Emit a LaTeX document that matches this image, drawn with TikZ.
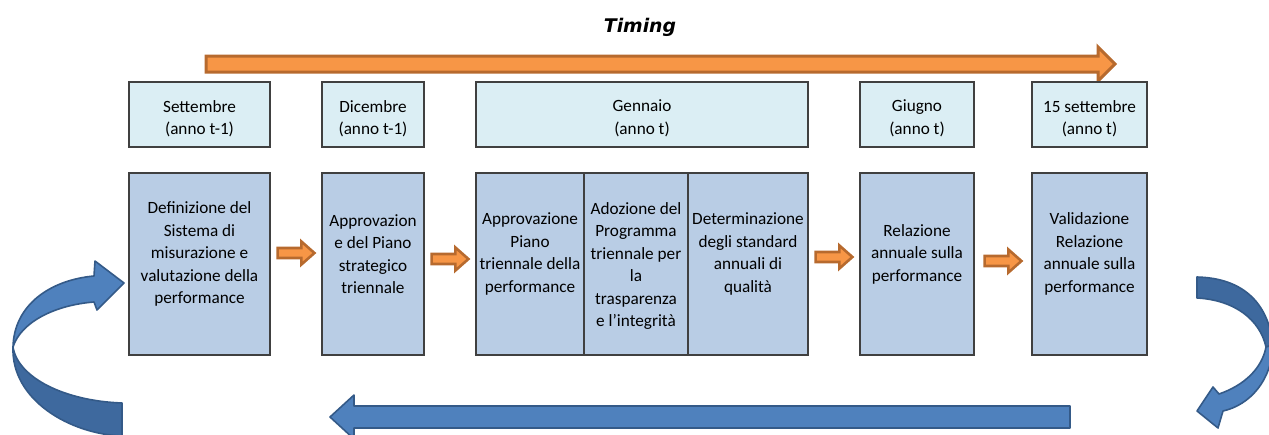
\documentclass[tikz,border=0pt]{standalone}
\usepackage{fontspec}
\setmainfont{Carlito}
\newfontfamily\titlefont[ItalicFont={* Oblique},BoldItalicFont={* Bold Oblique}]{DejaVu Sans}
\usetikzlibrary{calc}

\definecolor{azzurro}{HTML}{DBEEF4}
\definecolor{celeste}{HTML}{B9CDE5}
\definecolor{arancio}{HTML}{F79646}
\definecolor{arancioscuro}{HTML}{B76A2E}
\definecolor{blu}{HTML}{4F81BD}
\definecolor{blurovescio}{HTML}{3E699E}
\definecolor{bluscuro}{HTML}{345A88}
\definecolor{bordo}{HTML}{404040}

% freccia arancione tra due fasi
\newcommand{\frecciablocco}[2]{%
  \draw[freccia] ($(#1)+(0,-5)$) -- ($(#2)+(-13,-5)$) -- ($(#2)+(-13,-11.5)$) -- (#2)
    -- ($(#2)+(-13,11.5)$) -- ($(#2)+(-13,5)$) -- ($(#1)+(0,5)$) -- cycle;}

\begin{document}
\begin{tikzpicture}[x=0.5pt,y=-0.5pt,
  periodo/.style={draw=bordo, line width=0.6pt, fill=azzurro, minimum height=32.5pt, inner sep=0pt},
  fase/.style={draw=bordo, line width=0.6pt, fill=celeste, minimum height=91pt, inner sep=0pt},
  testo/.style={align=center, inner sep=0pt, font=\fontsize{8.6}{11.25}\selectfont},
  freccia/.style={fill=arancio, draw=arancioscuro, line width=1.3pt},
  blocco/.style={fill=blu, draw=bluscuro, line width=0.8pt, line join=round}]
  \useasboundingbox (0,0) rectangle (1269,434);

  \node[font=\titlefont\bfseries\itshape\fontsize{9.4}{11}\selectfont] (timing) at (640,27) {Timing};

  % freccia del tempo
  \draw[freccia, line width=1.5pt] (206,56) -- (1098,56) -- (1098,47) -- (1115,64) -- (1098,81) -- (1098,72) -- (206,72) -- cycle;

  % date
  \node[periodo, minimum width=70.5pt] (sett) at (199.5,114.5) {};
  \node[periodo, minimum width=51pt] (dic) at (373,114.5) {};
  \node[periodo, minimum width=166pt] (genn) at (642,114.5) {};
  \node[periodo, minimum width=57pt] (giu) at (917,114.5) {};
  \node[periodo, minimum width=57.5pt] (sett15) at (1089.5,114.5) {};

  \node[testo] (t-sett) at ([yshift=-2pt]sett.center) {Settembre\\(anno t-1)};
  \node[testo] (t-dic) at ([yshift=-2pt]dic.center) {Dicembre\\(anno t-1)};
  \node[testo] (t-genn) at ([yshift=-2pt]genn.center) {Gennaio\\(anno t)};
  \node[testo] (t-giu) at ([yshift=-2pt]giu.center) {Giugno\\(anno t)};
  \node[testo] (t-sett15) at ([yshift=-2pt]sett15.center) {15 settembre\\(anno t)};

  % fasi
  \node[fase, minimum width=70.5pt] (def) at (199.5,264) {};
  \node[fase, minimum width=51pt] (appr) at (373,264) {};
  \node[fase, minimum width=54pt] (piano) at (530,264) {};
  \node[fase, minimum width=52pt] (prog) at (636,264) {};
  \node[fase, minimum width=60pt] (stand) at (748,264) {};
  \node[fase, minimum width=57pt] (rel) at (917,264) {};
  \node[fase, minimum width=57.5pt] (val) at (1089.5,264) {};

  \node[testo] (t-def) at ([yshift=5pt]def.center) {Definizione del\\Sistema di\\misurazione e\\valutazione della\\performance};
  \node[testo] (t-appr) at ([yshift=5pt]appr.center) {Approvazion\\e del Piano\\strategico\\triennale};
  \node[testo] (t-piano) at ([yshift=5pt]piano.center) {Approvazione\\Piano\\triennale della\\performance};
  \node[testo] (t-prog) at ([yshift=-1pt]prog.center) {Adozione del\\Programma\\triennale per\\la\\trasparenza\\e l’integrità};
  \node[testo] (t-stand) at ([yshift=5pt]stand.center) {Determinazione\\degli standard\\annuali di\\qualità};
  \node[testo] (t-rel) at ([yshift=5pt]rel.center) {Relazione\\annuale sulla\\performance};
  \node[testo] (t-val) at ([yshift=5pt]val.center) {Validazione\\Relazione\\annuale sulla\\performance};

  % frecce tra le fasi
  \coordinate (a1) at ([xshift=3.5pt,yshift=5.5pt]def.east);
  \coordinate (b1) at ([xshift=-3.5pt,yshift=5.5pt]appr.west);
  \coordinate (a2) at ([xshift=3.5pt,yshift=2.5pt]appr.east);
  \coordinate (b2) at ([xshift=-3.5pt,yshift=2.5pt]piano.west);
  \coordinate (a3) at ([xshift=3.5pt,yshift=3.5pt]stand.east);
  \coordinate (b3) at ([xshift=-3.5pt,yshift=3.5pt]rel.west);
  \coordinate (a4) at ([xshift=5pt,yshift=1.5pt]rel.east);
  \coordinate (b4) at ([xshift=-5pt,yshift=1.5pt]val.west);
  \frecciablocco{a1}{b1}
  \frecciablocco{a2}{b2}
  \frecciablocco{a3}{b3}
  \frecciablocco{a4}{b4}

  % ciclo: frecce blu
  \draw[blocco] (1070,406) -- (354,406) -- (354,395) -- (330,417) -- (354,439) -- (354,428) -- (1070,428) -- cycle;
  % a sinistra: parte bassa (rovescio) e parte alta
  \draw[blocco, fill=blurovescio] (122,436) -- (122,403) .. controls (65,401) and (18,378) .. (13,347)
    .. controls (11,400) and (70,434) .. (122,436) -- cycle;
  \draw[blocco] (13,347) .. controls (14,305) and (50,280) .. (94,276) -- (95,261) -- (124,283) -- (97,310) -- (94,302)
    .. controls (55,305) and (21,322) .. (13,347) -- cycle;
  % a destra: parte alta (rovescio) e parte bassa
  \draw[blocco, fill=blurovescio] (1197,277) .. controls (1240,278) and (1268,300) .. (1273,345) -- (1266,347)
    .. controls (1260,320) and (1235,300) .. (1197,298) -- cycle;
  \draw[blocco] (1266,347) -- (1273,345) .. controls (1272,380) and (1250,405) .. (1223,411) -- (1218,428) -- (1197,411)
    -- (1213,387) -- (1219,394) .. controls (1245,385) and (1262,368) .. (1266,347) -- cycle;
\end{tikzpicture}
\end{document}
